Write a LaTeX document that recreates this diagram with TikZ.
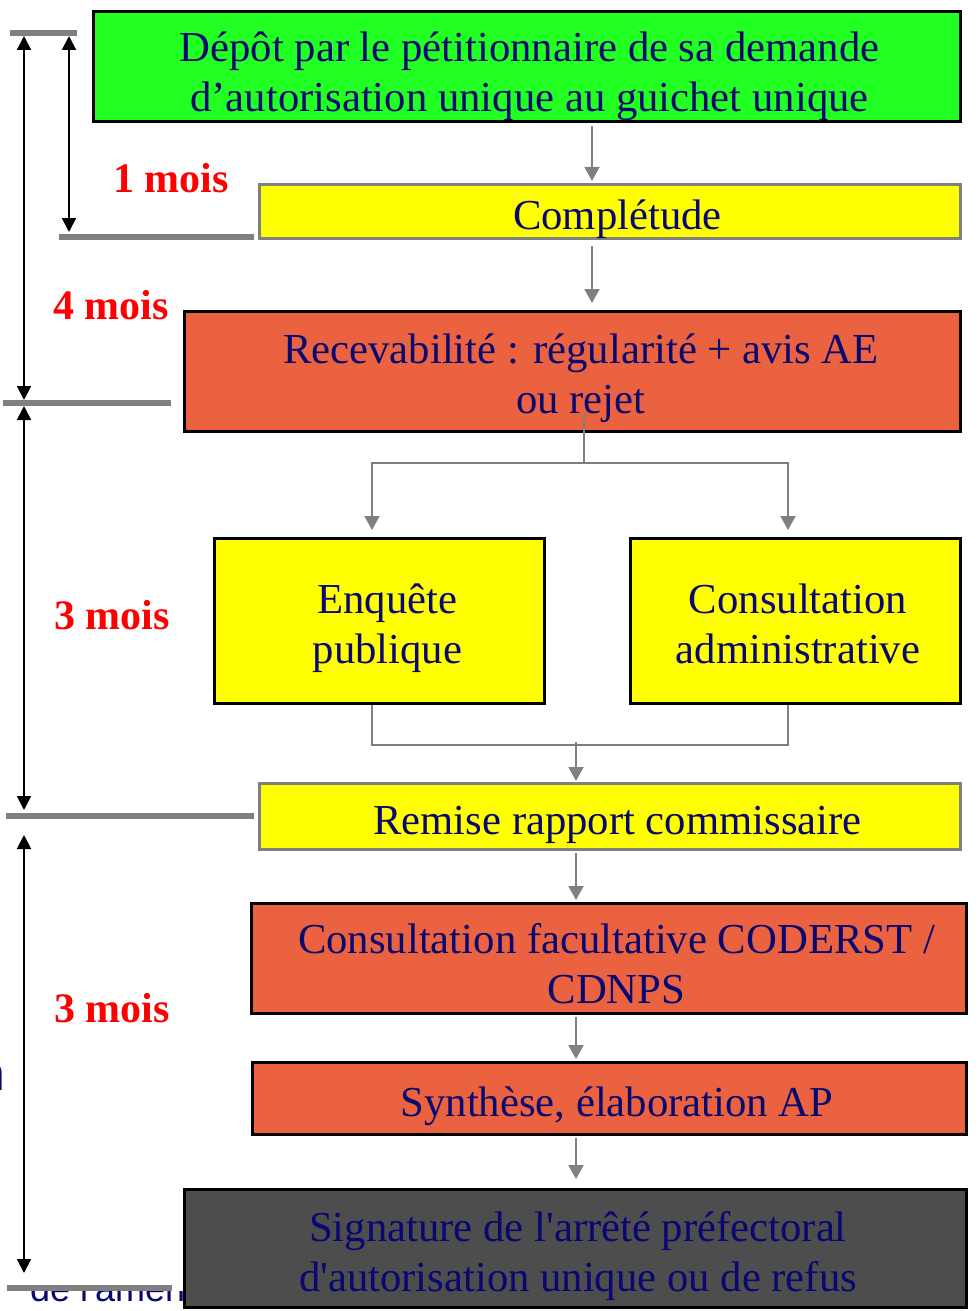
\documentclass[tikz,border=0pt]{standalone}
\usepackage{fontspec}
\setmainfont{Liberation Serif}[Ligatures=TeXOff]
\newfontfamily\slidesans{Liberation Sans}[Ligatures=TeXOff]
\usetikzlibrary{arrows.meta}

\definecolor{boxgreen}{RGB}{34,255,34}
\definecolor{boxyellow}{RGB}{255,255,0}
\definecolor{boxorange}{RGB}{235,98,65}
\definecolor{boxdark}{RGB}{77,77,77}
\definecolor{navytext}{RGB}{8,8,112}
\definecolor{linegray}{RGB}{128,128,128}

\begin{document}
\begin{tikzpicture}[x=1pt, y=-1pt,
  pad/.style 2 args={execute at begin node={\rule{0pt}{#1}\hspace*{#2}}},
  box/.style={draw, line width=3pt, inner sep=0pt, align=center,
    text=navytext, font=\fontsize{42.7}{50}\selectfont, pad={45pt}{15pt}},
  softbox/.style={box, draw=linegray},
  mois/.style={text=red, font=\bfseries\fontsize{42}{50}\selectfont},
  ghost/.style={text=navytext, inner sep=0pt, font=\slidesans\fontsize{36}{40}\selectfont},
  link/.style={linegray, line width=2pt},
  conn/.style={link, -{Triangle[width=15pt,length=14pt]}},
  bar/.style={linegray, line width=6pt},
  span/.style={black, line width=2pt, {Triangle[width=14pt,length=14pt]}-{Triangle[width=14pt,length=14pt]}}]

  \useasboundingbox (0,0) rectangle (979,1311);

  % Text left over from the slide behind
  \begin{scope}
    \clip (0,1291) rectangle (183,1311);
    \node[ghost, anchor=base west] (lost1) at (30,1301) {de l'amen};
  \end{scope}
  \node[ghost, anchor=base east, font=\slidesans\fontsize{48}{50}\selectfont] (lost2) at (5,1090) {n};

  % Steps
  \node[box, pad={100pt}{-10pt}, fill=boxgreen, minimum width=867pt, minimum height=110pt] (dep) at (527,66.5)
    {Dépôt par le pétitionnaire de sa demande\\d’autorisation unique au guichet unique};
  \node[softbox, fill=boxyellow, minimum width=701pt, minimum height=54pt] (com) at (610,211.5) {Complétude};
  \node[box, pad={94pt}{2pt}, fill=boxorange, minimum width=776pt, minimum height=120pt] (rec) at (572.5,371.5)
    {Recevabilité : régularité + avis AE\\ou rejet};
  \node[box, pad={94pt}{1pt}, fill=boxyellow, minimum width=330pt, minimum height=165pt] (enq) at (379.5,621)
    {Enquête\\publique};
  \node[box, pad={86pt}{-10pt}, fill=boxyellow, minimum width=330pt, minimum height=165pt] (cons) at (795.5,621)
    {Consultation\\administrative};
  \node[softbox, fill=boxyellow, minimum width=701pt, minimum height=66pt] (rem) at (610,816.5) {Remise rapport commissaire};
  \node[box, pad={90pt}{0pt}, fill=boxorange, minimum width=715pt, minimum height=110pt] (fac) at (609,958.5)
    {Consultation facultative CODERST /\\CDNPS};
  \node[box, fill=boxorange, minimum width=714pt, minimum height=72pt] (syn) at (609.5,1098.5) {Synthèse, élaboration AP};
  \node[box, pad={96pt}{-10pt}, fill=boxdark, minimum width=782pt, minimum height=118pt] (sig) at (575.5,1248.5)
    {Signature de l'arrêté préfectoral\\d'autorisation unique ou de refus};

  % Connectors
  \coordinate (ca) at (592,0);
  \coordinate (cb) at (576,0);
  \draw[conn, shorten <=3pt, shorten >=2pt] (dep.south -| ca) -- (com.north -| ca);
  \draw[conn, shorten <=6pt, shorten >=7pt] (com.south -| ca) -- (rec.north -| ca);

  \coordinate (rs) at (584,413);
  \coordinate (split) at (584,463);
  \draw[link] (rs) -- (split);
  \draw[conn, shorten >=7pt] (split) -| ([xshift=-7.5pt]enq.north);
  \draw[conn, shorten >=7pt] (split) -| ([xshift=-7.5pt]cons.north);

  \coordinate (join) at (576,745);
  \draw[link, line width=1.5pt] ([xshift=-7.5pt]enq.south) |- (join) -| ([xshift=-7.5pt]cons.south);
  \draw[conn, shorten <=-3pt, shorten >=1pt] (join) -- (rem.north -| join);

  \foreach \a/\b/\s in {rem/fac/2, fac/syn/2, syn/sig/9}{
    \draw[conn, shorten <=2pt, shorten >=\s pt] (\a.south -| cb) -- (\b.north -| cb);
  }

  % Time scale
  \foreach \n/\xa/\xb/\y in {t0/10/77/33, t1/59/254/237, t2/3/171/403, t3/6/254/816, t4/7/172/1288}{
    \draw[bar] (\xa,\y) -- (\xb,\y);
    \coordinate (\n) at (0,\y);
  }
  \coordinate (xin) at (69,0);
  \coordinate (xout) at (24,0);
  \draw[span, shorten <=3pt, shorten >=5pt] (t0 -| xin) -- (t1 -| xin);
  \draw[span, shorten <=3pt, shorten >=3pt] (t0 -| xout) -- (t2 -| xout);
  \draw[span, shorten <=3pt, shorten >=6pt] (t2 -| xout) -- (t3 -| xout);
  \draw[span, shorten <=19pt, shorten >=15pt] (t3 -| xout) -- (t4 -| xout);

  \node[mois] (m1) at (171,178) {1 mois};
  \node[mois] (m4) at (111,305) {4 mois};
  \node[mois] (m3a) at (112,615) {3 mois};
  \node[mois] (m3b) at (112,1008) {3 mois};

\end{tikzpicture}
\end{document}
